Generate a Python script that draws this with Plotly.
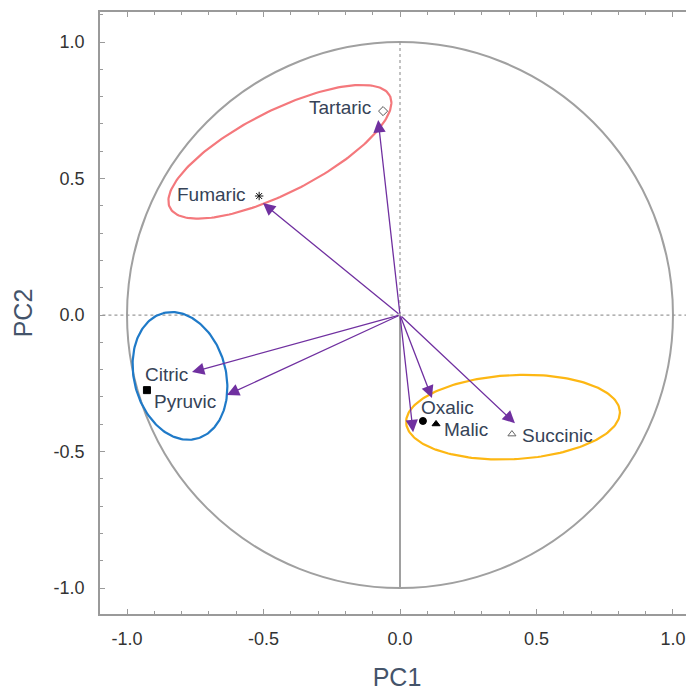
import numpy as np
import plotly.graph_objects as go

# ---- data ----
variables = ["Tartaric", "Fumaric", "Citric", "Pyruvic", "Oxalic", "Malic", "Succinic"]
# loading vectors (arrow tips)
load_pc1 = [-0.080, -0.502, -0.762, -0.634, 0.117, 0.048, 0.421]
load_pc2 = [0.714, 0.410, -0.209, -0.293, -0.304, -0.429, -0.396]

# sample markers
marker_names = ["Tartaric", "Fumaric", "Pyruvic", "Oxalic", "Malic", "Succinic"]
marker_pc1 = [-0.062, -0.516, -0.927, 0.084, 0.132, 0.410]
marker_pc2 = [0.747, 0.436, -0.275, -0.388, -0.399, -0.436]
marker_symbols = ["diamond-open", "asterisk-open", "square", "circle", "triangle-up", "triangle-up-open"]
marker_colors = ["#555555", "#111111", "#000000", "#000000", "#000000", "#666666"]

# label anchors (data coords)
label_pc1 = [-0.099, -0.557, -0.941, -0.908, 0.070, 0.154, 0.440]
label_pc2 = [0.762, 0.440, -0.216, -0.315, -0.337, -0.418, -0.440]
label_anchor = ["right", "right", "left", "left", "left", "left", "left"]

# group ellipses: center x, center y, semi-major, semi-minor, angle (deg)
groups = ["red", "blue", "orange"]
ell_cx = [-0.440, -0.806, 0.414]
ell_cy = [0.598, -0.223, -0.374]
ell_a = [0.452, 0.238, 0.392]
ell_b = [0.150, 0.168, 0.154]
ell_ang = [27, 105, 3]
ell_colors = ["#f4787c", "#1f7ac8", "#fdb713"]

xticks = [-1.0, -0.5, 0.0, 0.5, 1.0]
yticks = [-1.0, -0.5, 0.0, 0.5, 1.0]
tick_text = ["-1.0", "-0.5", "0.0", "0.5", "1.0"]

FONT = "Liberation Sans, Arial"

fig = go.Figure()

# unit circle
fig.add_shape(type="circle", x0=-1, y0=-1, x1=1, y1=1, xref="x", yref="y",
              line=dict(color="#a0a0a0", width=2), layer="below")
# reference lines
fig.add_shape(type="line", x0=-1.2, x1=1.2, y0=0, y1=0, xref="x", yref="y",
              line=dict(color="#9a9a9a", width=1.2, dash="dot"), layer="below")
fig.add_shape(type="line", x0=0, x1=0, y0=0, y1=1, xref="x", yref="y",
              line=dict(color="#9a9a9a", width=1.2, dash="dot"), layer="below")
fig.add_shape(type="line", x0=0, x1=0, y0=-1, y1=0, xref="x", yref="y",
              line=dict(color="#a0a0a0", width=2), layer="below")

# ellipses
t = np.linspace(0, 2 * np.pi, 200)
for cx, cy, a, b, ang, col in zip(ell_cx, ell_cy, ell_a, ell_b, ell_ang, ell_colors):
    th = np.deg2rad(ang)
    ex = cx + a * np.cos(t) * np.cos(th) - b * np.sin(t) * np.sin(th)
    ey = cy + a * np.cos(t) * np.sin(th) + b * np.sin(t) * np.cos(th)
    fig.add_trace(go.Scatter(x=ex, y=ey, mode="lines", line=dict(color=col, width=2.2),
                             hoverinfo="skip", showlegend=False))

# markers
fig.add_trace(go.Scatter(
    x=marker_pc1, y=marker_pc2, mode="markers", text=marker_names,
    marker=dict(symbol=marker_symbols, color=marker_colors, size=7,
                line=dict(width=1, color=marker_colors)),
    showlegend=False))

# arrows
for x, y in zip(load_pc1, load_pc2):
    fig.add_annotation(x=x, y=y, ax=0, ay=0, xref="x", yref="y", axref="x", ayref="y",
                       text="", showarrow=True, arrowhead=2, arrowsize=1.9,
                       arrowwidth=1.3, arrowcolor="#7030a0", standoff=0)

# labels
for name, x, y, anc in zip(variables, label_pc1, label_pc2, label_anchor):
    fig.add_annotation(x=x, y=y, xref="x", yref="y", text=name, showarrow=False,
                       xanchor=anc, yanchor="middle",
                       font=dict(family=FONT, size=19, color="#364357"))

axis_common = dict(
    showgrid=False, zeroline=False, showline=True, linecolor="#9a9a9a", linewidth=1.5,
    ticks="inside", ticklen=5, tickcolor="#9a9a9a", tickwidth=1,
    minor=dict(ticks="inside", ticklen=3, dtick=0.1, tickcolor="#9a9a9a", tickwidth=1),
    tickfont=dict(family=FONT, size=18, color="#333333"),
    automargin=False,
)

fig.update_xaxes(range=[-1.099, 1.077], tickvals=xticks, ticktext=tick_text, mirror="allticks",
                 title=dict(text="PC1", font=dict(family=FONT, size=25, color="#44546a"),
                            standoff=22),
                 ticklabelstandoff=8, **axis_common)
fig.update_yaxes(range=[-1.095, 1.11], tickvals=yticks, ticktext=tick_text, mirror=False,
                 title=dict(text="PC2", font=dict(family=FONT, size=25, color="#44546a"),
                            standoff=14),
                 ticklabelstandoff=10, **axis_common)

# page body has an 8px margin, so the figure is offset by (8, 8)
fig.update_layout(width=686, height=683, margin=dict(l=92, r=0, t=4, b=77),
                  plot_bgcolor="white", paper_bgcolor="white", showlegend=False)

fig.write_html("out.html")
